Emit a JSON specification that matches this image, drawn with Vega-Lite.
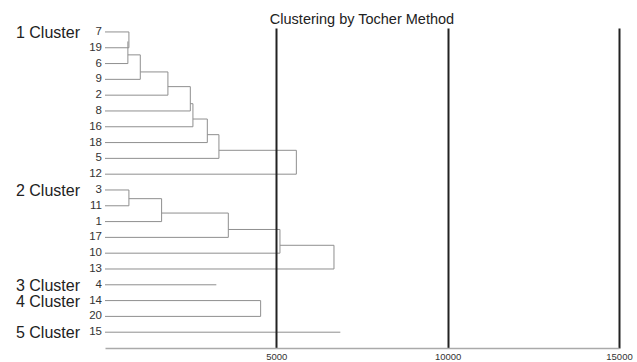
{
  "$schema": "https://vega.github.io/schema/vega-lite/v6.json",
  "autosize": "none",
  "width": 514,
  "height": 320,
  "padding": {"left": 105, "top": 28, "right": 18, "bottom": 14},
  "background": "white",
  "config": {
    "font": "Liberation Sans",
    "view": {"stroke": null}
  },
  "title": {
    "text": "Clustering by Tocher Method",
    "fontSize": 14.5,
    "fontWeight": "normal",
    "color": "#222",
    "anchor": "middle",
    "offset": -3
  },
  "datasets": {
    "segments": [
      {"x": 0, "x2": 698, "y": 1, "y2": 1},
      {"x": 0, "x2": 698, "y": 2, "y2": 2},
      {"x": 0, "x2": 668, "y": 3, "y2": 3},
      {"x": 0, "x2": 1030, "y": 4, "y2": 4},
      {"x": 0, "x2": 1836, "y": 5, "y2": 5},
      {"x": 0, "x2": 2490, "y": 6, "y2": 6},
      {"x": 0, "x2": 2566, "y": 7, "y2": 7},
      {"x": 0, "x2": 2986, "y": 8, "y2": 8},
      {"x": 0, "x2": 3325, "y": 9, "y2": 9},
      {"x": 0, "x2": 5584, "y": 10, "y2": 10},
      {"x": 0, "x2": 698, "y": 11, "y2": 11},
      {"x": 0, "x2": 698, "y": 12, "y2": 12},
      {"x": 0, "x2": 1652, "y": 13, "y2": 13},
      {"x": 0, "x2": 3599, "y": 14, "y2": 14},
      {"x": 0, "x2": 5106, "y": 15, "y2": 15},
      {"x": 0, "x2": 6682, "y": 16, "y2": 16},
      {"x": 0, "x2": 3249, "y": 17, "y2": 17},
      {"x": 0, "x2": 4542, "y": 18, "y2": 18},
      {"x": 0, "x2": 4542, "y": 19, "y2": 19},
      {"x": 0, "x2": 6868, "y": 20, "y2": 20},
      {"x": 668, "x2": 1030, "y": 2.45, "y2": 2.45},
      {"x": 1030, "x2": 1836, "y": 3.53, "y2": 3.53},
      {"x": 1836, "x2": 2490, "y": 4.46, "y2": 4.46},
      {"x": 2490, "x2": 2566, "y": 5.54, "y2": 5.54},
      {"x": 2566, "x2": 2986, "y": 6.51, "y2": 6.51},
      {"x": 2986, "x2": 3325, "y": 7.5, "y2": 7.5},
      {"x": 3325, "x2": 5584, "y": 8.49, "y2": 8.49},
      {"x": 698, "x2": 1652, "y": 11.55, "y2": 11.55},
      {"x": 1652, "x2": 3599, "y": 12.46, "y2": 12.46},
      {"x": 3599, "x2": 5106, "y": 13.5, "y2": 13.5},
      {"x": 5106, "x2": 6682, "y": 14.5, "y2": 14.5},
      {"x": 698, "x2": 698, "y": 1, "y2": 2},
      {"x": 668, "x2": 668, "y": 1.6, "y2": 3},
      {"x": 1030, "x2": 1030, "y": 2.45, "y2": 4},
      {"x": 1836, "x2": 1836, "y": 3.53, "y2": 5},
      {"x": 2490, "x2": 2490, "y": 4.46, "y2": 6},
      {"x": 2566, "x2": 2566, "y": 5.54, "y2": 7},
      {"x": 2986, "x2": 2986, "y": 6.51, "y2": 8},
      {"x": 3325, "x2": 3325, "y": 7.5, "y2": 9},
      {"x": 5584, "x2": 5584, "y": 8.49, "y2": 10},
      {"x": 698, "x2": 698, "y": 11, "y2": 12},
      {"x": 1652, "x2": 1652, "y": 11.55, "y2": 13},
      {"x": 3599, "x2": 3599, "y": 12.46, "y2": 14},
      {"x": 5106, "x2": 5106, "y": 13.5, "y2": 15},
      {"x": 6682, "x2": 6682, "y": 14.5, "y2": 16},
      {"x": 4542, "x2": 4542, "y": 18, "y2": 19}
    ],
    "leaves": [
      {"leaf": "7", "pos": 1, "cluster": "1 Cluster"},
      {"leaf": "19", "pos": 2, "cluster": ""},
      {"leaf": "6", "pos": 3, "cluster": ""},
      {"leaf": "9", "pos": 4, "cluster": ""},
      {"leaf": "2", "pos": 5, "cluster": ""},
      {"leaf": "8", "pos": 6, "cluster": ""},
      {"leaf": "16", "pos": 7, "cluster": ""},
      {"leaf": "18", "pos": 8, "cluster": ""},
      {"leaf": "5", "pos": 9, "cluster": ""},
      {"leaf": "12", "pos": 10, "cluster": ""},
      {"leaf": "3", "pos": 11, "cluster": "2 Cluster"},
      {"leaf": "11", "pos": 12, "cluster": ""},
      {"leaf": "1", "pos": 13, "cluster": ""},
      {"leaf": "17", "pos": 14, "cluster": ""},
      {"leaf": "10", "pos": 15, "cluster": ""},
      {"leaf": "13", "pos": 16, "cluster": ""},
      {"leaf": "4", "pos": 17, "cluster": "3 Cluster"},
      {"leaf": "14", "pos": 18, "cluster": "4 Cluster"},
      {"leaf": "20", "pos": 19, "cluster": ""},
      {"leaf": "15", "pos": 20, "cluster": "5 Cluster"}
    ]
  },
  "layer": [
    {
      "data": {"name": "segments"},
      "mark": {"type": "rule", "color": "#8f8f8f", "strokeWidth": 1},
      "encoding": {
        "x": {
          "field": "x",
          "type": "quantitative",
          "scale": {"domain": [0, 15000], "nice": false, "zero": false},
          "axis": {
            "title": null,
            "values": [5000, 10000, 15000],
            "format": "d",
            "grid": true,
            "gridColor": "#222",
            "gridWidth": 2,
            "gridOpacity": 1,
            "ticks": false,
            "domain": true,
            "domainColor": "#aaa",
            "domainWidth": 1.5,
            "labelFontSize": 9.5,
            "labelColor": "#333",
            "labelPadding": 3.5,
            "labelFlush": false,
            "zindex": 1
          }
        },
        "x2": {"field": "x2"},
        "y": {
          "field": "y",
          "type": "quantitative",
          "scale": {"domain": [0.75, 21], "reverse": true, "nice": false, "zero": false},
          "axis": null
        },
        "y2": {"field": "y2"}
      }
    },
    {
      "data": {"name": "leaves"},
      "mark": {"type": "text", "align": "right", "baseline": "middle", "dx": -3, "fontSize": 11.5, "color": "#333"},
      "encoding": {
        "x": {"datum": 0, "type": "quantitative"},
        "y": {"field": "pos", "type": "quantitative"},
        "text": {"field": "leaf"}
      }
    },
    {
      "data": {"name": "leaves"},
      "transform": [{"filter": "datum.cluster != ''"}],
      "mark": {"type": "text", "align": "right", "baseline": "middle", "dx": -25, "dy": 1, "fontSize": 16, "color": "#222"},
      "encoding": {
        "x": {"datum": 0, "type": "quantitative"},
        "y": {"field": "pos", "type": "quantitative"},
        "text": {"field": "cluster"}
      }
    }
  ]
}
